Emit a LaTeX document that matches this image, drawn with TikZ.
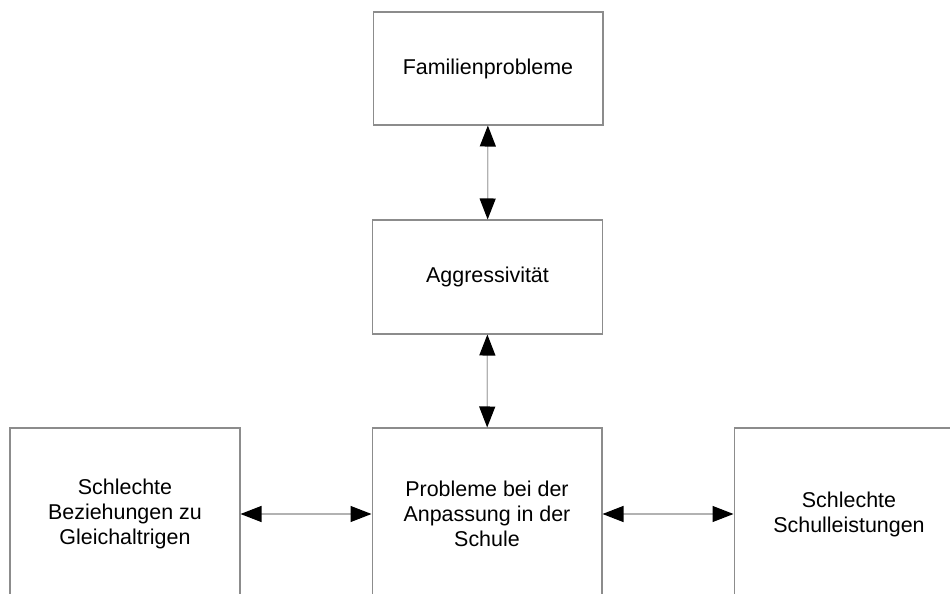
\documentclass[tikz,border=0pt]{standalone}
\usepackage{fontspec}
\setmainfont{Liberation Sans}
\usetikzlibrary{arrows.meta,positioning}

\begin{document}
\begin{tikzpicture}[x=0.02cm,y=-0.02cm,
  box/.style={draw=black!45,line width=0.6pt,fill=white,align=center,
    minimum width=4.6cm,font=\fontsize{12.2}{14.2}\selectfont},
  conn/.style={draw=black!30,line width=0.7pt,
    {Triangle[length=0.42cm,width=0.32cm,black]}-{Triangle[length=0.42cm,width=0.32cm,black]}}]
\useasboundingbox (0,0) rectangle (950,594);
\clip (0,0) rectangle (950,594);
% boxes
\node[box,minimum height=2.26cm] (familie) at (488,68.5) {Familienprobleme};
\node[box,minimum height=2.28cm] (aggr) at (487.5,277) {Aggressivität};
\node[box,minimum height=3.44cm] (schule) at (487,514) {Probleme bei der\\Anpassung in der\\Schule};
\node[box,minimum height=3.44cm] (gleich) at (125,514) {Schlechte\\Beziehungen zu\\Gleichaltrigen};
\node[box,minimum height=3.44cm] (leistung) at (849,514) {Schlechte\\Schulleistungen};
% connectors
\draw[conn] (familie) -- (aggr);
\draw[conn] (aggr) -- (schule);
\draw[conn] (gleich) -- (schule);
\draw[conn] (schule) -- (leistung);
\end{tikzpicture}
\end{document}
